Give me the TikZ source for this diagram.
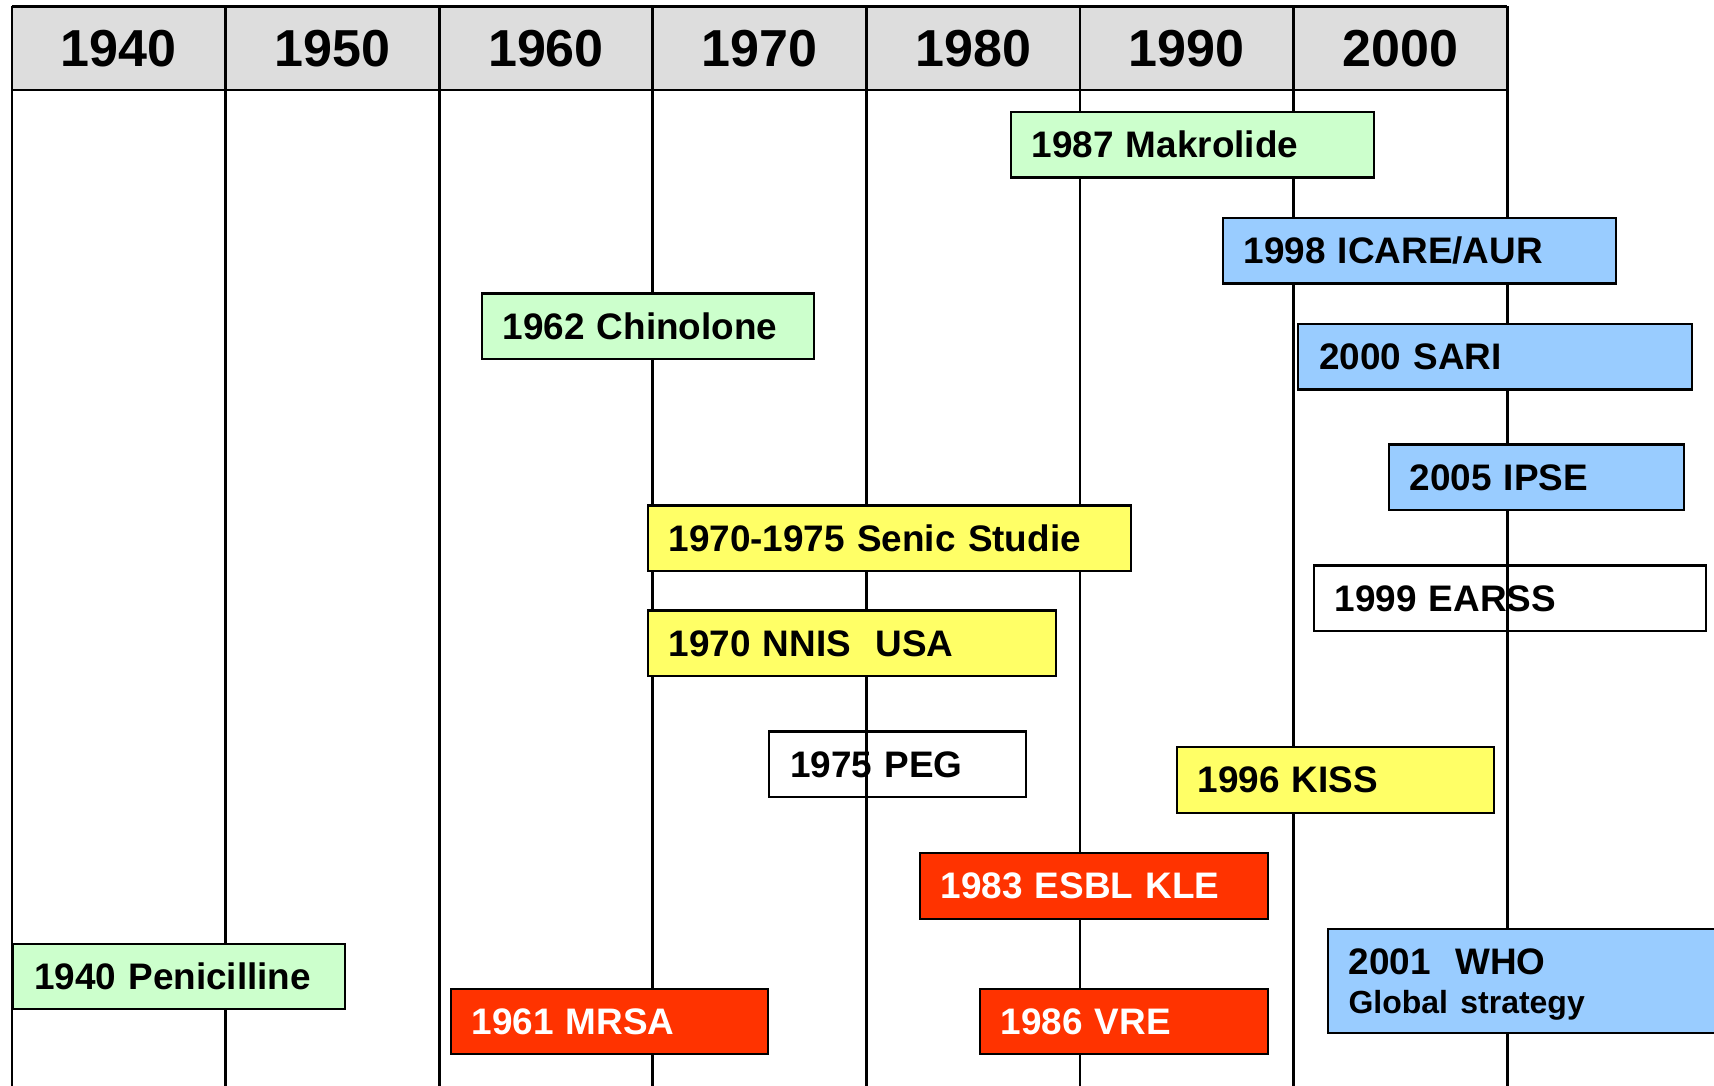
\documentclass[tikz,border=0pt]{standalone}
\usepackage{fontspec}
\setmainfont{Liberation Sans}
\usepackage{xcolor}
\usetikzlibrary{positioning}

\definecolor{hdrgray}{HTML}{DDDDDD}
\definecolor{drugcol}{HTML}{CCFFCC}
\definecolor{netcol}{HTML}{99CCFF}
\definecolor{studycol}{HTML}{FFFF66}
\definecolor{germcol}{HTML}{FF3300}

\tikzset{
  event/.style={draw, line width=0.6pt, anchor=north west, minimum height=0.655cm,
    inner xsep=0.21cm, inner ysep=0pt, text height=7.5pt, text depth=0pt, align=left,
    font=\fontsize{10.5}{12.6}\selectfont\bfseries},
  drug/.style={event, fill=drugcol},
  net/.style={event, fill=netcol},
  study/.style={event, fill=studycol},
  germ/.style={event, fill=germcol, text=white},
  plain/.style={event},
  decade/.style={font=\fontsize{14.8}{17}\selectfont\bfseries},
}

\begin{document}
\begin{tikzpicture}
  \useasboundingbox (0,0) rectangle (17.14,-10.86);
  \clip (0,0) rectangle (17.14,-10.86);
  % header row
  \fill[hdrgray] (0.12,-0.065) rectangle (15.072,-0.90);
  \foreach \i/\yr in {0/1940, 1/1950, 2/1960, 3/1970, 4/1980, 5/1990, 6/2000}
    \node[decade] (y\yr) at (0.12+2.136*\i+1.068,-0.49) {\yr};
  % grid
  \draw[line width=0.8pt] (0.12,-0.065) -- (15.072,-0.065);
  \draw[line width=0.8pt] (0.12,-0.90) -- (15.072,-0.90);
  \foreach \i in {0,...,7}
    \draw[line width=0.8pt] (0.12+2.136*\i,-0.065) -- (0.12+2.136*\i,-10.9);
  % events
  \node[drug, text width=3.21cm] (makrolide) at (10.095,-1.11) {1987 Makrolide};
  \node[net, text width=3.51cm] (icare) at (12.215,-2.17) {1998 ICARE/AUR};
  \node[drug, text width=2.90cm] (chinolone) at (4.805,-2.925) {1962 Chinolone};
  \node[net, text width=3.515cm] (sari) at (12.97,-3.23) {2000 SARI};
  \node[net, text width=2.53cm] (ipse) at (13.875,-4.435) {2005 IPSE};
  \node[study, text width=4.41cm] (senic) at (6.465,-5.045) {1970-1975 Senic Studie};
  \node[plain, text width=3.50cm] (earss) at (13.125,-5.645) {1999 EARSS};
  \node[study, text width=3.66cm] (nnis) at (6.465,-6.095) {1970 NNIS~~USA};
  \node[plain, text width=2.145cm] (peg) at (7.68,-7.305) {1975 PEG};
  \node[study, text width=2.75cm] (kiss) at (11.755,-7.46) {1996 KISS};
  \node[germ, text width=3.06cm] (esbl) at (9.185,-8.52) {1983 ESBL KLE};
  \node[drug, text width=2.90cm] (penicillin) at (0.12,-9.425) {1940 Penicilline};
  \node[net, text width=3.80cm, minimum height=1.04cm, text height=, text depth=,
    font=\fontsize{10.5}{11.2}\selectfont\bfseries] (who) at (13.265,-9.275)
    {\rule{0pt}{9.5pt}2001~~WHO\\{\fontsize{9.1}{11.2}\selectfont Global strategy}};
  \node[germ, text width=2.75cm] (mrsa) at (4.495,-9.875) {1961 MRSA};
  \node[germ, text width=2.46cm] (vre) at (9.785,-9.875) {1986 VRE};
\end{tikzpicture}
\end{document}
